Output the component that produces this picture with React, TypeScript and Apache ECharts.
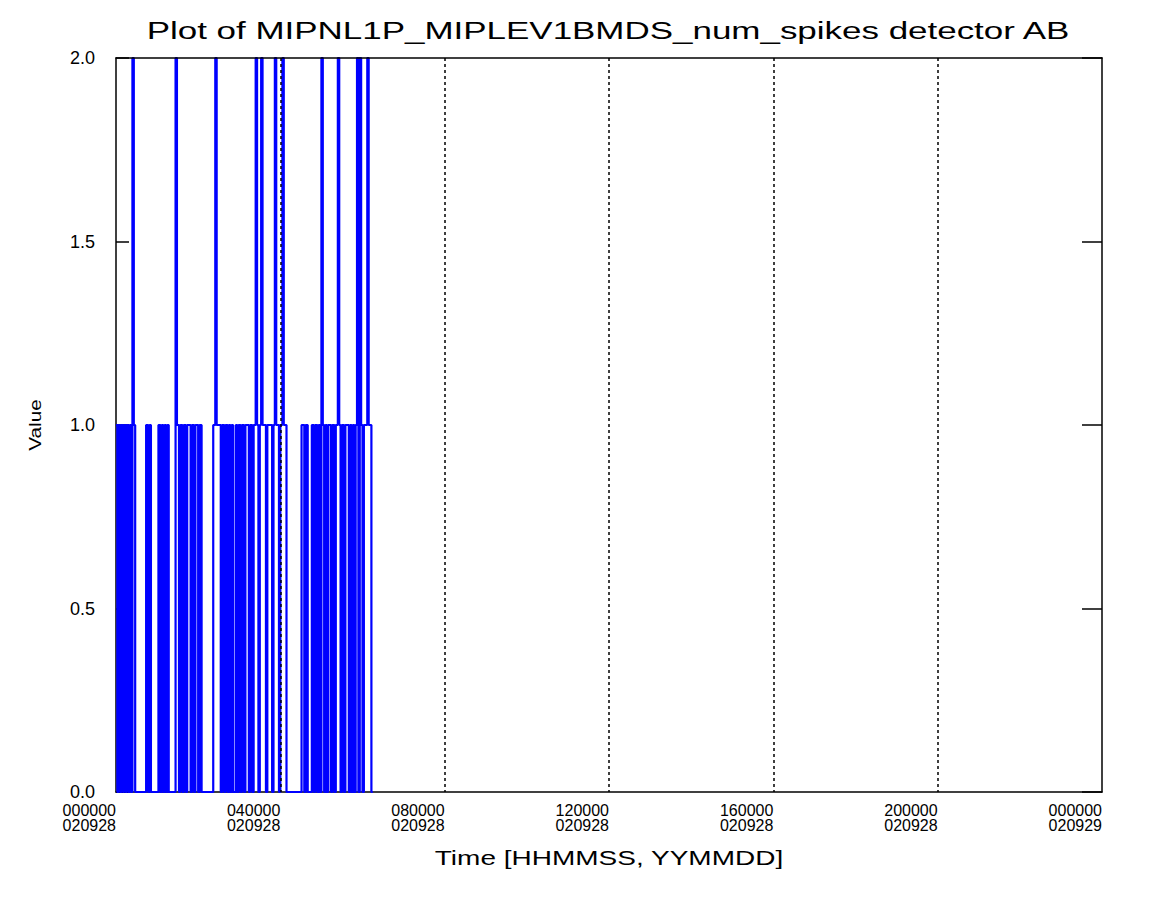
import React, { useEffect, useRef } from "react";
import * as echarts from "echarts";

// Time of each sample in minutes after 000000 020928, and the spike count from then on
const sampleMinutes = [
  0, 2, 4, 6, 8, 10, 12, 14, 16, 18, 20, 22, 24, 26, 28,
  44, 47, 49, 51,
  62, 65, 67, 69, 71, 73, 75, 77,
  87, 89, 92, 94, 97, 99, 102, 104, 109, 111, 114, 116, 120, 122, 125,
  142, 145, 147, 153, 155, 158, 160, 163, 165, 167, 169, 171, 175, 177, 179, 182, 184, 187,
  189, 194, 196, 199, 201, 204, 206, 208, 210, 212, 214, 219, 221, 228, 230, 232, 234, 238,
  240, 243, 245, 249,
  271, 275, 277, 280, 286, 289, 291, 294, 296, 298, 300, 302, 304, 306, 308, 310, 314, 316,
  319, 321, 324, 326, 328, 330, 333, 335, 340, 342, 344, 346, 348, 350, 352, 354, 356, 358,
  360, 362, 367, 369, 373, 375,
];
const spikeCounts = [
  1, 0, 1, 0, 1, 0, 1, 0, 1, 0, 1, 0, 2, 1, 0,
  1, 0, 1, 0,
  1, 0, 1, 0, 1, 0, 1, 0,
  2, 1, 0, 1, 0, 1, 0, 1, 0, 1, 0, 1, 0, 1, 0,
  1, 2, 1, 0, 1, 0, 1, 0, 1, 0, 1, 0, 1, 0, 1, 0, 1, 0,
  1, 0, 1, 0, 1, 2, 1, 0, 1, 2, 1, 0, 1, 0, 1, 2, 1, 0,
  1, 2, 1, 0,
  1, 0, 1, 0, 1, 0, 1, 0, 1, 0, 2, 1, 0, 1, 0, 1, 0, 1,
  0, 1, 2, 1, 0, 1, 0, 1, 0, 1, 0, 1, 0, 1, 2, 0, 2, 1,
  0, 1, 2, 1, 0, 0,
];

const xTickLabels = [
  "000000\n020928",
  "040000\n020928",
  "080000\n020928",
  "120000\n020928",
  "160000\n020928",
  "200000\n020928",
  "000000\n020929",
];

const titleText = "Plot of MIPNL1P_MIPLEV1BMDS_num_spikes detector AB";
const xAxisTitle = "Time [HHMMSS, YYMMDD]";
const yAxisTitle = "Value";

const FONT = '"Liberation Sans", Arial, sans-serif';

export default function App() {
  const ref = useRef<HTMLDivElement>(null);

  useEffect(() => {
    const chart = echarts.init(ref.current!, null, { renderer: "svg" });
    const data = sampleMinutes.map((m, i) => [m, spikeCounts[i]]);

    const textEl = (
      text: string,
      x: number,
      y: number,
      size: number,
      scaleX: number,
      rotation = 0
    ) => ({
      type: "text",
      x,
      y,
      rotation,
      scaleX,
      silent: true,
      style: {
        text,
        fill: "#000",
        font: `${size}px ${FONT}`,
        textAlign: "center",
        textVerticalAlign: "middle",
        align: "center",
        verticalAlign: "middle",
      },
    });

    chart.setOption({
      animation: false,
      backgroundColor: "#ffffff",
      grid: {
        left: 116,
        right: 58,
        top: 58,
        bottom: 115,
        containLabel: false,
        outerBoundsMode: "none",
      },
      graphic: [
        textEl(titleText, 608, 31, 23, 1.52),
        textEl(xAxisTitle, 609, 858, 20, 1.4),
        textEl(yAxisTitle, 35, 425, 16, 1.3, Math.PI / 2),
      ],
      xAxis: [
        {
          type: "value",
          position: "bottom",
          min: 0,
          max: 1440,
          interval: 240,
          z: 0,
          axisLine: { show: true, onZero: false, lineStyle: { color: "#000", width: 1.5 } },
          axisTick: { show: false },
          splitLine: { show: false },
          axisLabel: {
            show: true,
            color: "#000",
            fontFamily: FONT,
            fontSize: 16,
            lineHeight: 15,
            align: "right",
            margin: 11,
            formatter: (v: number) => xTickLabels[Math.round(v / 240)] ?? "",
          },
        },
        {
          type: "value",
          position: "top",
          min: 0,
          max: 1440,
          interval: 240,
          z: 3,
          axisLine: { show: true, onZero: false, lineStyle: { color: "#000", width: 1.5 } },
          axisTick: { show: false },
          axisLabel: { show: false },
          splitLine: {
            show: true,
            showMinLine: false,
            showMaxLine: false,
            lineStyle: { color: "#000", width: 1.5, type: [3, 3] },
          },
        },
      ],
      yAxis: [
        {
          type: "value",
          position: "left",
          min: 0,
          max: 2,
          interval: 0.5,
          axisLine: { show: true, onZero: false, lineStyle: { color: "#000", width: 1.5 } },
          axisTick: { show: true, inside: true, length: 13, lineStyle: { color: "#000", width: 1.5 } },
          splitLine: { show: false },
          axisLabel: {
            color: "#000",
            fontFamily: FONT,
            fontSize: 18,
            margin: 21,
            formatter: (v: number) => v.toFixed(1),
          },
        },
        {
          type: "value",
          position: "right",
          min: 0,
          max: 2,
          interval: 0.5,
          axisLine: { show: true, onZero: false, lineStyle: { color: "#000", width: 1.5 } },
          axisTick: { show: true, inside: true, length: 20, lineStyle: { color: "#000", width: 1.5 } },
          splitLine: { show: false },
          axisLabel: { show: false },
        },
      ],
      series: [
        {
          type: "line",
          xAxisIndex: 0,
          yAxisIndex: 0,
          step: "end",
          showSymbol: false,
          symbol: "none",
          data,
          lineStyle: { color: "#0000ff", width: 2.2 },
          itemStyle: { color: "#0000ff" },
          z: 2,
        },
      ],
    });

    return () => chart.dispose();
  }, []);

  return (
    <div
      ref={ref}
      style={{ position: "fixed", left: 0, top: 0, width: 1160, height: 907, background: "#fff" }}
    />
  );
}
